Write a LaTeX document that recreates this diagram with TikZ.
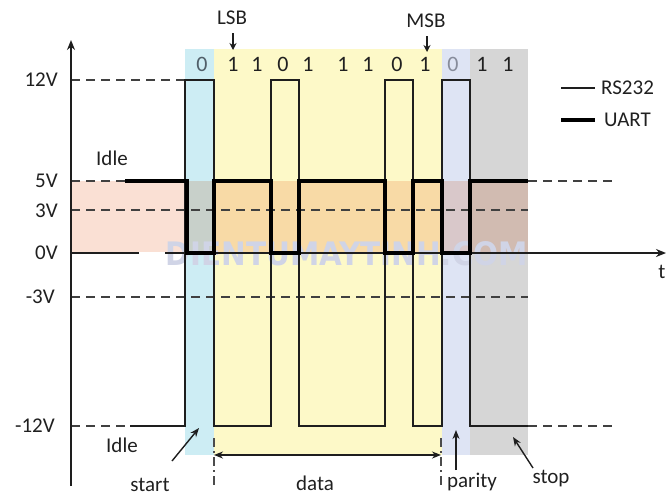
\documentclass[tikz,border=0pt]{standalone}
\usepackage{fontspec}
\setmainfont{Carlito}
\newfontfamily\markfont{DejaVu Sans}
\usepackage{graphicx}
\usetikzlibrary{arrows.meta}
\definecolor{startcol}{RGB}{205,237,244}
\definecolor{datacol}{RGB}{253,249,200}
\definecolor{paritycol}{RGB}{222,228,244}
\definecolor{stopcol}{RGB}{214,214,214}
\definecolor{bandcol}{RGB}{250,224,212}
\definecolor{ink}{RGB}{30,30,30}
\definecolor{labelcol}{RGB}{32,32,32}
\definecolor{markcol}{RGB}{208,212,230}
\begin{document}
\begin{tikzpicture}[x=1pt,y=-1pt,
  lbl/.style={font=\fontsize{21}{23}\selectfont, text=labelcol, inner sep=0pt},
  bitlbl/.style={font=\fontsize{22}{24}\selectfont, text=labelcol, inner sep=0pt},
  level/.style={draw=ink!85, line width=1.7pt, dash pattern=on 9pt off 6pt},
  rsline/.style={draw=ink, line width=1.9pt, line join=miter},
  uartline/.style={draw=black, line width=3.6pt, line join=miter},
  axisline/.style={draw=ink, line width=1.6pt},
  pointer/.style={draw=ink, line width=1.4pt, -{Stealth[length=9pt,width=7pt]}},
  smallpointer/.style={draw=ink, line width=1.4pt, -{Stealth[length=7pt,width=7pt]}},
]
\useasboundingbox (0,0) rectangle (668,496);

% frame fields: start, data, parity, stop
\fill[startcol]  (185,49) rectangle (214,455);
\fill[datacol]   (214,49) rectangle (442,455);
\fill[paritycol] (442,49) rectangle (470,455);
\fill[stopcol]   (470,49) rectangle (528,455);
% TTL band between 0V and 5V
\fill[bandcol, blend mode=multiply] (71,181) rectangle (528,252);

% site mark
\node[inner sep=0pt, text=markcol] (mark) at (347,254)
  {\resizebox{362pt}{24pt}{\markfont\bfseries DIENTUMAYTINH.COM}};

% voltage levels
\draw[level] (71,80) -- (185,80);
\draw[level] (71,181) -- (125,181);
\draw[level] (71,210) -- (528,210);
\draw[level] (71,297) -- (528,297);
\draw[level] (71,426) -- (130,426);
\draw[level] (528,181) -- (612,181);
\draw[level] (528,426) -- (612,426);

% axes
\coordinate (yA) at (71,486);
\coordinate (yB) at (71,40);
\draw[axisline, -{Stealth[length=10pt,width=8pt]}] (yA) -- (yB);
\coordinate (tA) at (71,253);
\coordinate (tB) at (139,253);
\coordinate (tC) at (165,253);
\coordinate (tD) at (666,253);
\draw[axisline] (tA) -- (tB);
\draw[axisline, -{Stealth[length=10pt,width=8pt]}] (tC) -- (tD);
\node[lbl] (tlbl) at (662,272) {t};

% RS232 waveform
\draw[rsline] (130,426) -- (185,426) -- (185,80) -- (214,80) -- (214,426)
  -- (271,426) -- (271,80) -- (299,80) -- (299,426)
  -- (385,426) -- (385,80) -- (413,80) -- (413,426)
  -- (442,426) -- (442,80) -- (470,80) -- (470,426) -- (528,426);

% UART waveform
\draw[uartline] (125,181) -- (187,181) -- (187,253) -- (214,253) -- (214,181)
  -- (271,181) -- (271,253) -- (299,253) -- (299,181)
  -- (385,181) -- (385,253) -- (413,253) -- (413,181)
  -- (442,181) -- (442,253) -- (470,253) -- (470,181) -- (528,181);

% level labels
\node[lbl, anchor=east] (v12)  at (58,80)  {12V};
\node[lbl, anchor=east] (v5)   at (58,181) {5V};
\node[lbl, anchor=east] (v3)   at (58,211) {3V};
\node[lbl, anchor=east] (v0)   at (58,253) {0V};
\node[lbl, anchor=east] (vm3)  at (55,297) {-3V};
\node[lbl, anchor=east] (vm12) at (55,426) {-12V};

% bit values
\node[bitlbl, text={rgb,255:red,80;green,95;blue,105}] (b0) at (202,64) {0};
\foreach \x/\v [count=\i] in {233/1,257/1,283/0,308/1,343/1,368/1,397/0,425/1}
  \node[bitlbl] (b\i) at (\x,64) {\v};
\node[bitlbl, text={rgb,255:red,135;green,140;blue,155}] (b9) at (453,64) {0};
\node[bitlbl] (b10) at (482,64) {1};
\node[bitlbl] (b11) at (508,64) {1};

% LSB / MSB markers
\node[lbl] (lsb) at (232,18) {LSB};
\coordinate (lsbtip) at (233,50);
\draw[smallpointer] (233,33) -- (lsbtip);
\node[lbl] (msb) at (426,21) {MSB};
\coordinate (msbtip) at (427,52);
\draw[smallpointer] (427,36) -- (msbtip);

% legend
\coordinate (rsA) at (561,88);
\coordinate (rsB) at (595,88);
\draw[rsline] (rsA) -- (rsB);
\node[lbl, anchor=west] (rslbl) at (601,88) {RS232};
\coordinate (uaA) at (561,120);
\coordinate (uaB) at (595,120);
\draw[uartline] (uaA) -- (uaB);
\node[lbl, anchor=west] (ualbl) at (604,120) {UART};

% idle labels
\node[lbl] (idleup) at (112,158) {Idle};
\node[lbl] (idledn) at (122,445) {Idle};

% field annotations
\node[lbl] (startlbl) at (150,485) {start};
\coordinate (startA) at (172,461);
\coordinate (startB) at (199,428);
\draw[pointer] (startA) -- (startB);

\node[lbl] (datalbl) at (315,483) {data};
\coordinate (dataL) at (214,455);
\coordinate (dataR) at (441,455);
\draw[draw=ink, line width=1.4pt, {Stealth[length=9pt,width=7pt]}-{Stealth[length=9pt,width=7pt]}] (dataL) -- (dataR);
\draw[ink!80, line width=1.4pt, dash pattern=on 9pt off 4pt on 2pt off 4pt] (214,438) -- (214,486);
\draw[ink!80, line width=1.4pt, dash pattern=on 9pt off 4pt on 2pt off 4pt] (441,438) -- (441,486);

\node[lbl] (paritylbl) at (472,482) {parity};
\coordinate (parA) at (456,470);
\coordinate (parB) at (456,430);
\draw[pointer] (parA) -- (parB);

\node[lbl] (stoplbl) at (551,479) {stop};
\coordinate (stopA) at (533,468);
\coordinate (stopB) at (513,437);
\draw[pointer] (stopA) -- (stopB);
\end{tikzpicture}
\end{document}
